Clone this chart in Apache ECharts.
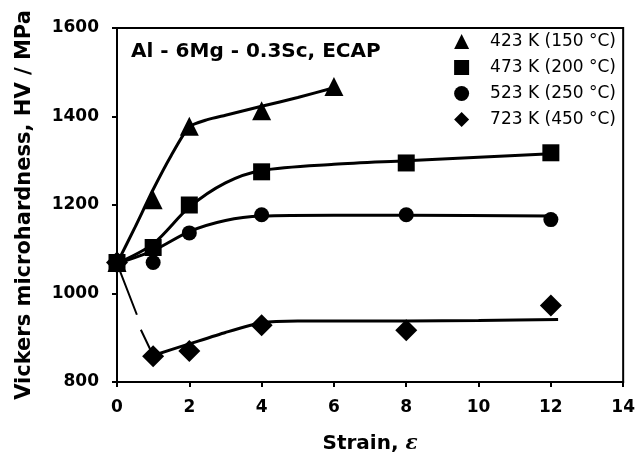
<!DOCTYPE html>
<html>
<head>
<meta charset="utf-8">
<script src="https://cdn.jsdelivr.net/npm/echarts@6/dist/echarts.min.js"></script>
<style>
  html, body { margin: 0; padding: 0; background: #fff; }
  #chart { width: 638px; height: 459px; }
</style>
</head>
<body>
<div id="chart"></div>
<script>
// measured points (strain, HV)
const strain423 = [0, 1, 2, 4, 6];
const hv423 = [1070, 1212, 1378, 1413, 1468];
const strain473 = [0, 1, 2, 4, 8, 12];
const hv473 = [1070, 1104, 1200, 1275, 1295, 1318];
const strain523 = [0, 1, 2, 4, 8, 12];
const hv523 = [1070, 1070, 1137, 1178, 1178, 1167];
const strain723 = [0, 1, 2, 4, 8, 12];
const hv723 = [1070, 858, 870, 928, 917, 973];

// hand-drawn trend curves
const fit423 = [[0, 1068], [0.5, 1150], [1, 1235], [1.5, 1312], [2, 1377], [2.5, 1393], [3, 1403], [4, 1423], [5, 1443], [6, 1465]];
const fit473 = [[0, 1068], [1, 1112], [2, 1195], [3, 1250], [4, 1278], [6, 1292], [8, 1300], [10, 1308], [12, 1316]];
const fit523 = [[0, 1068], [1, 1097], [2, 1140], [3, 1165], [4, 1175], [6, 1177], [8, 1177], [12, 1175]];
const fit723drop = [[0, 1068], [0.55, 952], null, [0.66, 918], [1, 860]];
const fit723 = [[1, 860], [2, 886], [3, 912], [4, 934], [5, 938], [8, 938], [10, 939], [12.2, 941]];

const legendNames = ['423 K (150 °C)', '473 K (200 °C)', '523 K (250 °C)', '723 K (450 °C)'];

const zip = (xs, ys) => xs.map((x, i) => [x, ys[i]]);
const fitLine = (data, width, smooth) => ({
  type: 'line', data, smooth, showSymbol: false, silent: true,
  connectNulls: false,
  lineStyle: { color: '#000', width }, z: 2
});
const marks = (name, symbol, size, data, z) => ({
  type: 'scatter', name, symbol, symbolSize: size, data,
  itemStyle: { color: '#000', opacity: 1 }, z
});

const chart = echarts.init(document.getElementById('chart'));
const font = '"DejaVu Sans", sans-serif';

chart.setOption({
  animation: false,
  backgroundColor: '#fff',
  textStyle: { fontFamily: font, color: '#000' },
  title: {
    text: 'Al - 6Mg - 0.3Sc, ECAP',
    left: 126, top: 37,
    textStyle: { fontFamily: font, fontSize: 20, fontWeight: 'bold', color: '#000' }
  },
  legend: {
    data: legendNames,
    orient: 'vertical',
    right: 17, top: 28,
    itemWidth: 15, itemHeight: 15, itemGap: 9,
    textStyle: { fontFamily: font, fontSize: 17, color: '#000', padding: [0, 0, 0, 16] }
  },
  grid: {
    left: 117, right: 13, top: 28, bottom: 76,
    show: true, borderColor: '#000', borderWidth: 2
  },
  xAxis: {
    type: 'value', min: 0, max: 14, interval: 2,
    name: '{n|Strain, }{e|ε}', nameLocation: 'middle', nameGap: 52,
    nameTextStyle: { rich: {
      n: { fontFamily: font, fontSize: 20, fontWeight: 'bold', color: '#000' },
      e: { fontFamily: '"DejaVu Serif", serif', fontSize: 20, fontStyle: 'italic', fontWeight: 'bold', color: '#000' }
    } },
    axisLine: { lineStyle: { color: '#000', width: 2 } },
    axisTick: { inside: false, length: 5, lineStyle: { color: '#000', width: 2 } },
    axisLabel: { fontFamily: font, fontSize: 17, fontWeight: 'bold', color: '#000', margin: 17 },
    splitLine: { show: false }
  },
  yAxis: {
    type: 'value', min: 800, max: 1600, interval: 200,
    name: 'Vickers microhardness, HV / MPa', nameLocation: 'middle', nameGap: 82,
    nameTextStyle: { fontFamily: font, fontSize: 21, fontWeight: 'bold', color: '#000' },
    axisLine: { lineStyle: { color: '#000', width: 2 } },
    axisTick: { inside: false, length: 5, lineStyle: { color: '#000', width: 2 } },
    axisLabel: { fontFamily: font, fontSize: 17, fontWeight: 'bold', color: '#000', margin: 18, formatter: v => String(v) },
    splitLine: { show: false }
  },
  series: [
    fitLine(fit423, 3, 0.2),
    fitLine(fit473, 3, 0.3),
    fitLine(fit523, 3, 0.3),
    fitLine(fit723drop, 2, false),
    fitLine(fit723, 3, 0.2),
    marks(legendNames[3], 'diamond', 22, zip(strain723, hv723), 3),
    marks(legendNames[2], 'circle', 15, zip(strain523, hv523), 4),
    marks(legendNames[0], 'triangle', 19, zip(strain423, hv423), 5),
    marks(legendNames[1], 'rect', 17, zip(strain473, hv473), 6)
  ]
});
</script>
</body>
</html>
